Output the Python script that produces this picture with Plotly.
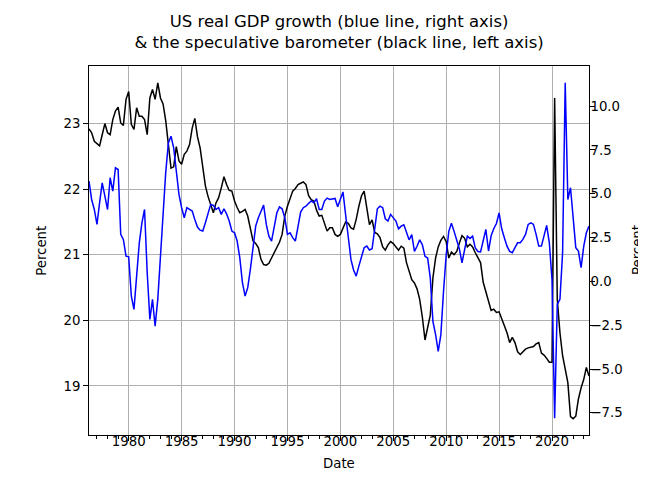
import pandas as pd
import plotly.graph_objects as go

# Quarterly dates, 1976Q2 .. 2023Q3
dates = pd.date_range("1976-04-01", periods=190, freq="QS")

# Speculative barometer (left axis, percent)
barometer = [
    22.92, 22.86, 22.73, 22.70, 22.66, 22.83, 23.00, 22.86, 22.83, 23.06,
    23.19, 23.25, 23.01, 22.97, 23.37, 23.49, 22.99, 22.91, 23.24, 23.11,
    23.11, 23.06, 22.83, 23.39, 23.52, 23.37, 23.62, 23.39, 23.30, 23.05,
    22.70, 22.32, 22.34, 22.65, 22.43, 22.38, 22.53, 22.58, 22.68, 22.93,
    23.08, 22.80, 22.63, 22.30, 22.05, 21.89, 21.77, 21.64, 21.79, 21.87,
    22.02, 22.19, 22.07, 21.98, 21.97, 21.82, 21.72, 21.64, 21.66, 21.69,
    21.59, 21.41, 21.21, 21.17, 21.11, 20.93, 20.85, 20.84, 20.87, 20.95,
    21.03, 21.11, 21.19, 21.31, 21.59, 21.74, 21.84, 21.97, 22.01, 22.07,
    22.09, 22.11, 22.07, 21.90, 21.84, 21.82, 21.68, 21.59, 21.60, 21.49,
    21.36, 21.41, 21.41, 21.31, 21.28, 21.31, 21.40, 21.50, 21.48, 21.41,
    21.39, 21.54, 21.74, 21.90, 21.97, 21.69, 21.46, 21.53, 21.34, 21.32,
    21.26, 21.12, 21.07, 21.15, 21.20, 21.17, 21.12, 21.07, 21.13, 21.10,
    20.88, 20.75, 20.62, 20.57, 20.48, 20.32, 20.05, 19.70, 19.90, 20.08,
    20.65, 20.95, 21.12, 21.22, 21.28, 21.20, 20.95, 21.04, 21.00, 21.05,
    21.18, 21.29, 21.25, 21.12, 21.16, 21.12, 21.03, 20.95, 20.88, 20.58,
    20.44, 20.30, 20.15, 20.17, 20.12, 20.13, 20.02, 19.90, 19.81, 19.66,
    19.74, 19.66, 19.52, 19.48, 19.52, 19.56, 19.58, 19.59, 19.60, 19.64,
    19.66, 19.50, 19.47, 19.42, 19.36, 19.36, 23.39, 20.32, 19.81, 19.46,
    19.23, 19.05, 18.53, 18.50, 18.54, 18.80, 18.97, 19.10, 19.28, 19.15,
]

# US real GDP growth, year over year (right axis, percent)
gdp_growth = [
    5.72, 4.67, 4.10, 3.25, 4.48, 5.62, 4.86, 4.10, 5.91, 5.15,
    6.48, 6.38, 2.68, 2.39, 1.44, 1.40, -0.84, -1.60, 0.30, 2.20,
    3.34, 4.10, 0.49, -2.17, -1.03, -2.55, -1.03, 1.63, 3.91, 6.19,
    7.90, 8.28, 7.62, 6.19, 4.96, 4.20, 3.63, 4.20, 4.10, 4.01,
    3.53, 3.10, 2.92, 2.87, 3.34, 3.82, 4.39, 4.33, 4.10, 4.20,
    3.82, 4.14, 3.85, 3.44, 2.87, 2.77, 2.30, 1.35, -0.08, -0.84,
    -0.36, 0.68, 2.11, 3.15, 3.63, 4.01, 4.35, 3.25, 2.58, 2.30,
    3.06, 3.91, 4.25, 4.14, 3.63, 2.68, 2.77, 2.49, 2.30, 3.15,
    3.95, 4.20, 4.29, 4.45, 4.58, 4.48, 4.71, 4.10, 4.10, 4.58,
    4.75, 4.67, 4.71, 4.73, 4.25, 4.70, 5.10, 3.80, 2.68, 1.25,
    0.65, 0.30, 0.87, 1.40, 1.92, 2.01, 1.79, 1.86, 2.96, 4.14,
    4.29, 4.20, 3.57, 3.44, 3.82, 3.63, 3.44, 3.00, 3.15, 3.23,
    2.85, 2.37, 2.66, 1.71, 2.00, 2.37, 2.09, 1.43, 1.33, 0.20,
    -2.30, -3.04, -3.99, -3.04, -0.57, 1.52, 2.85, 3.32, 2.85, 2.35,
    1.85, 1.06, 1.73, 2.58, 2.45, 2.58, 1.90, 1.70, 1.68, 2.40,
    2.96, 1.73, 2.60, 3.00, 3.30, 3.90, 3.00, 2.49, 2.01, 1.71,
    1.63, 1.92, 2.20, 2.20, 2.39, 2.68, 3.25, 3.34, 3.25, 2.68,
    2.01, 2.01, 2.54, 3.19, 2.20, 0.11, -7.81, -1.31, -1.03, 1.63,
    11.33, 4.67, 5.34, 3.63, 1.92, 1.73, 0.78, 2.01, 2.77, 3.15,
]

left_ticks = [19, 20, 21, 22, 23]
right_ticks = [-7.5, -5.0, -2.5, 0.0, 2.5, 5.0, 7.5, 10.0]

FONT = "DejaVu Sans"
W, H = 646, 480
L_M, R_M, T_M, B_M = 80.75, 64.6, 57.6, 52.8
PW = W - L_M - R_M
PH = H - T_M - B_M

fig = go.Figure()
fig.add_trace(go.Scatter(x=dates, y=barometer, mode="lines",
                         line=dict(color="black", width=1.5), yaxis="y",
                         name="barometer", showlegend=False))
fig.add_trace(go.Scatter(x=dates, y=gdp_growth, mode="lines",
                         line=dict(color="#0000ff", width=1.5), yaxis="y2",
                         name="GDP growth", showlegend=False))

tick_font = dict(family=FONT, size=13.3, color="black")
label_font = dict(family=FONT, size=13.3, color="black")
fig.update_layout(
    width=W, height=H,
    margin=dict(l=L_M, r=R_M, t=T_M, b=B_M, pad=0, autoexpand=False),
    paper_bgcolor="white", plot_bgcolor="white",
    font=dict(family=FONT, color="black"),
    title=dict(text="US real GDP growth (blue line, right axis)<br>& the speculative barometer (black line, left axis)",
               font=dict(family=FONT, size=16.5, color="black"),
               x=(L_M + PW / 2) / W, xanchor="center",
               y=1 - 19 / H, yanchor="top", yref="container"),
    xaxis=dict(
        type="date", automargin=False,
        range=[dates[0], dates[-1]],
        tick0="1980-01-01", dtick="M60", tickformat="%Y",
        ticks="outside", ticklen=4.9, tickwidth=0.8, tickcolor="black",
        tickfont=tick_font, ticklabelstandoff=-11,
        showgrid=True, gridcolor="#b0b0b0", gridwidth=0.8,
        showline=True, linecolor="black", linewidth=0.8, mirror=True,
        zeroline=False,
        minor=dict(tick0="1976-01-01", dtick="M12", ticks="outside",
                   ticklen=2.8, tickwidth=0.6, tickcolor="black", showgrid=False),
    ),
    yaxis=dict(
        automargin=False,
        range=[18.251, 23.878],
        tickvals=left_ticks,
        ticks="outside", ticklen=4.9, tickwidth=0.8, tickcolor="black",
        tickfont=tick_font,
        showgrid=True, gridcolor="#b0b0b0", gridwidth=0.8,
        showline=True, linecolor="black", linewidth=0.8,
        zeroline=False,
    ),
    yaxis2=dict(
        automargin=False,
        range=[-8.764, 12.284],
        overlaying="y", side="right",
        tickvals=right_ticks, tickformat=".1f",
        ticks="outside", ticklen=4.9, tickwidth=0.8, tickcolor="black",
        tickfont=tick_font, ticklabelstandoff=-7,
        showgrid=False,
        showline=True, linecolor="black", linewidth=0.8,
        zeroline=False,
    ),
    annotations=[
        dict(text="Date", xref="paper", yref="paper", x=0.5, y=-(456 - (H - B_M)) / PH,
             xanchor="center", yanchor="middle", showarrow=False, font=label_font),
        dict(text="Percent", xref="paper", yref="paper", x=-(L_M - 33) / PW, y=0.5,
             xanchor="center", yanchor="middle", textangle=-90, showarrow=False, font=label_font),
        dict(text="Percent", xref="paper", yref="paper", x=1 + (630 - (W - R_M)) / PW, y=0.5,
             xanchor="center", yanchor="middle", textangle=-90, showarrow=False, font=label_font),
    ],
)

fig.write_html("out.html")
